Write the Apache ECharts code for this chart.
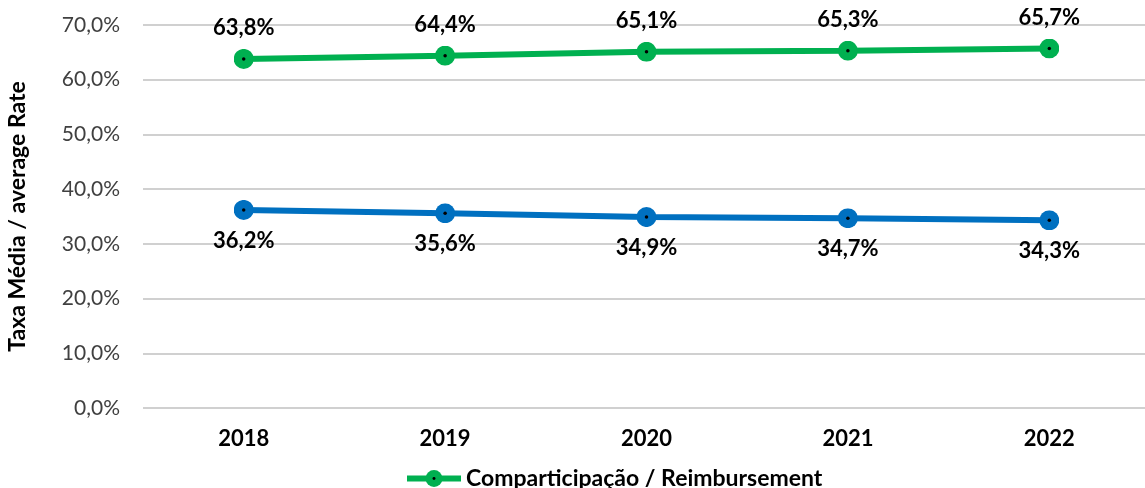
<!DOCTYPE html>
<html>
<head>
<meta charset="utf-8">
<script src="https://cdn.jsdelivr.net/npm/echarts@6/dist/echarts.min.js"></script>
<style>
  html, body { margin: 0; padding: 0; background: #fff; }
  #chart { width: 1145px; height: 488px; }
</style>
</head>
<body>
<div id="chart"></div>
<script>
  let years = ["2018", "2019", "2020", "2021", "2022"];
  let reimbursement = [63.8, 64.4, 65.1, 65.3, 65.7];
  let userShare = [36.2, 35.6, 34.9, 34.7, 34.3];
  let greenName = "Comparticipação / Reimbursement";
  let blueName = "Utente / User";

  function dotSymbol(color) {
    let svg =
      "<svg xmlns='http://www.w3.org/2000/svg' width='40' height='40'>" +
      "<circle cx='20' cy='20' r='20' fill='" + color + "'/>" +
      "<circle cx='20' cy='20' r='3.5' fill='%23000'/></svg>";
    return "image://data:image/svg+xml;utf8," + svg;
  }

  function pct(v) {
    return v.toFixed(1).replace(".", ",") + "%";
  }

  let font = "Lato, 'Open Sans', sans-serif";
  let chart = echarts.init(document.getElementById("chart"));
  let option = {
    animation: false,
    textStyle: { fontFamily: font },
    grid: { left: 143, right: -5, top: 25, bottom: 80, outerBoundsMode: "none" },
    legend: {
      data: [{ name: greenName, lineStyle: { width: 6, color: "#00B050" } }],
      left: 399,
      top: 462,
      itemWidth: 54,
      itemHeight: 21,
      itemGap: 4,
      textStyle: { fontSize: 23, fontWeight: "bold", color: "#000", fontFamily: font },
    },
    xAxis: {
      type: "category",
      data: years,
      axisLine: { show: false },
      axisTick: { show: false },
      axisLabel: { fontSize: 22, fontWeight: "bold", color: "#000", margin: 20 },
    },
    yAxis: {
      type: "value",
      min: 0,
      max: 70,
      interval: 10,
      name: "Taxa Média / average Rate",
      nameLocation: "middle",
      nameGap: 114,
      nameRotate: 90,
      nameTextStyle: { fontSize: 23, fontWeight: "bold", color: "#000" },
      axisLabel: {
        fontSize: 21,
        color: "#404040",
        margin: 23,
        formatter: function (v) {
          return pct(v);
        },
      },
      splitLine: { lineStyle: { color: "#d0d0d0", width: 2 } },
    },
    series: [
      {
        name: greenName,
        type: "line",
        data: reimbursement,
        symbol: dotSymbol("%2300B050"),
        symbolSize: 20,
        lineStyle: { color: "#00B050", width: 6 },
        itemStyle: { color: "#00B050" },
        label: {
          show: true,
          position: "top",
          distance: 10,
          fontSize: 22,
          fontWeight: "bold",
          color: "#000",
          formatter: function (p) {
            return pct(p.value);
          },
        },
      },
      {
        name: blueName,
        type: "line",
        data: userShare,
        symbol: dotSymbol("%230070C0"),
        symbolSize: 20,
        lineStyle: { color: "#0070C0", width: 6 },
        itemStyle: { color: "#0070C0" },
        label: {
          show: true,
          position: "bottom",
          distance: 10,
          fontSize: 22,
          fontWeight: "bold",
          color: "#000",
          formatter: function (p) {
            return pct(p.value);
          },
        },
      },
    ],
  };
  chart.setOption(option);
</script>
</body>
</html>
